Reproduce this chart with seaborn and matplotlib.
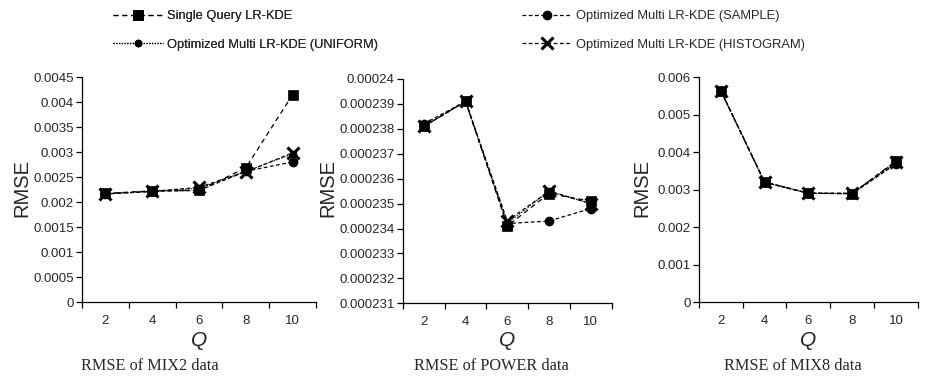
import numpy as np
import pandas as pd
import matplotlib
matplotlib.use("Agg")
import matplotlib.pyplot as plt
import seaborn as sns
from matplotlib.lines import Line2D

# data
q_values = [2, 4, 6, 8, 10]
methods = ["Single Query LR-KDE", "Optimized Multi LR-KDE (SAMPLE)",
           "Optimized Multi LR-KDE (UNIFORM)", "Optimized Multi LR-KDE (HISTOGRAM)"]

mix2_single = [0.00218, 0.00223, 0.00224, 0.00269, 0.00415]
mix2_sample = [0.00217, 0.00222, 0.00224, 0.00262, 0.00281]
mix2_uniform = [0.00217, 0.00222, 0.00228, 0.00262, 0.00297]
mix2_hist = [0.00217, 0.00222, 0.00230, 0.00261, 0.00299]

power_single = [0.0002381, 0.0002391, 0.0002341, 0.0002354, 0.0002351]
power_sample = [0.0002382, 0.0002391, 0.0002342, 0.0002343, 0.0002348]
power_uniform = [0.0002381, 0.0002391, 0.0002342, 0.0002355, 0.0002350]
power_hist = [0.0002381, 0.0002391, 0.0002343, 0.0002355, 0.0002350]

mix8_single = [0.00564, 0.00321, 0.00291, 0.00290, 0.00377]
mix8_sample = [0.00564, 0.00320, 0.00291, 0.00290, 0.00369]
mix8_uniform = [0.00564, 0.00320, 0.00291, 0.00290, 0.00372]
mix8_hist = [0.00565, 0.00321, 0.00291, 0.00291, 0.00375]

mix2_yticks = ["0", "0.0005", "0.001", "0.0015", "0.002", "0.0025", "0.003", "0.0035", "0.004", "0.0045"]
power_yticks = ["0.000231", "0.000232", "0.000233", "0.000234", "0.000235", "0.000236",
                "0.000237", "0.000238", "0.000239", "0.00024"]
mix8_yticks = ["0", "0.001", "0.002", "0.003", "0.004", "0.005", "0.006"]

titles = ["RMSE of MIX2 data", "RMSE of POWER data", "RMSE of MIX8 data"]

panels = [
    (mix2_single, mix2_sample, mix2_uniform, mix2_hist, mix2_yticks),
    (power_single, power_sample, power_uniform, power_hist, power_yticks),
    (mix8_single, mix8_sample, mix8_uniform, mix8_hist, mix8_yticks),
]

sns.set_style("white")
plt.rcParams['font.family'] = ['Liberation Sans', 'DejaVu Sans']

markers = {methods[0]: 's', methods[1]: 'o', methods[2]: 'o', methods[3]: 'X'}
dashes = {methods[0]: (4, 3), methods[1]: (3, 2), methods[2]: (1, 1.2), methods[3]: (3, 2)}
msizes = {methods[0]: 7, methods[1]: 6.5, methods[2]: 5, methods[3]: 8}

fig = plt.figure(figsize=(9.28, 3.76), dpi=100)
boxes = [(0.0884, 0.196, 0.252, 0.598), (0.4343, 0.1934, 0.2247, 0.5966), (0.7532, 0.196, 0.2358, 0.598)]
ylabel_x = [22 / 928, 328 / 928, 642 / 928]
title_x = [150 / 928, 491 / 928, 793 / 928]

for i, (s, sa, u, h, yt) in enumerate(panels):
    ax = fig.add_axes(boxes[i])
    pos = np.arange(len(q_values))
    series = [s, sa, u, h]
    for k in [3, 2, 1, 0]:
        m = methods[k]
        df = pd.DataFrame({'pos': pos, 'rmse': series[k]})
        mk = markers[m]
        sns.lineplot(data=df, x='pos', y='rmse', ax=ax, color='black', lw=0.9,
                     marker='x' if mk == 'X' else mk, markersize=msizes[m],
                     markeredgewidth=2.2 if mk == 'X' else 0.5, markeredgecolor='black',
                     dashes=dashes[m], legend=False)
    ticks = [float(t) for t in yt]
    ax.set_ylim(ticks[0], ticks[-1])
    ax.set_yticks(ticks)
    ax.set_yticklabels(yt)
    ax.set_xlim(-0.5, len(q_values) - 0.5)
    ax.set_xticks(np.arange(-0.5, len(q_values)))
    ax.set_xticklabels([])
    ax.set_xticks(pos, minor=True)
    ax.set_xticklabels([str(v) for v in q_values], minor=True)
    ax.tick_params(axis='x', which='major', direction='out', length=4, width=0.9, bottom=True, color='black')
    ax.tick_params(axis='x', which='minor', length=0, pad=9, labelsize=9.5)
    ax.tick_params(axis='y', direction='out', length=4, width=0.9, left=True, color='black', labelsize=9.5, pad=2)
    for side in ['top', 'right']:
        ax.spines[side].set_visible(False)
    for side in ['left', 'bottom']:
        ax.spines[side].set_color('black')
        ax.spines[side].set_linewidth(0.9)
    ax.set_xlabel('')
    ax.set_ylabel('')
    fig.text(ylabel_x[i], 0.5, 'RMSE', rotation=90, ha='center', va='center', fontsize=14.5)
    x_c = boxes[i][0] + boxes[i][2] / 2
    fig.text(x_c, 1 - 340 / 376, 'Q', style='italic', ha='center', va='center', fontsize=15)
    fig.text(title_x[i], 1 - 366 / 376, titles[i], ha='center', va='center', fontsize=11.7,
             family=['Liberation Serif', 'DejaVu Serif'])

# legend in two columns
handles = []
for m in methods:
    mk = markers[m]
    handles.append(Line2D([], [], color='black', lw=0.9, dashes=dashes[m],
                          marker='x' if mk == 'X' else mk, markersize=msizes[m],
                          markeredgewidth=2.2 if mk == 'X' else 0.5))
leg_font = {'family': ['Liberation Sans'], 'size': 9.3}
leg1 = fig.legend([handles[0], handles[2]], [methods[0], methods[2]], loc='upper left',
                  bbox_to_anchor=(105 / 928, 0.993), frameon=False, prop=leg_font,
                  handlelength=3.9, handletextpad=0.3, labelspacing=1.25, borderaxespad=0.2)
fig.add_artist(leg1)
fig.legend([handles[1], handles[3]], [methods[1], methods[3]], loc='upper left',
           bbox_to_anchor=(514 / 928, 0.993), frameon=False, prop=leg_font,
           handlelength=3.9, handletextpad=0.3, labelspacing=1.25, borderaxespad=0.2)

fig.savefig('out.png', dpi=100)
